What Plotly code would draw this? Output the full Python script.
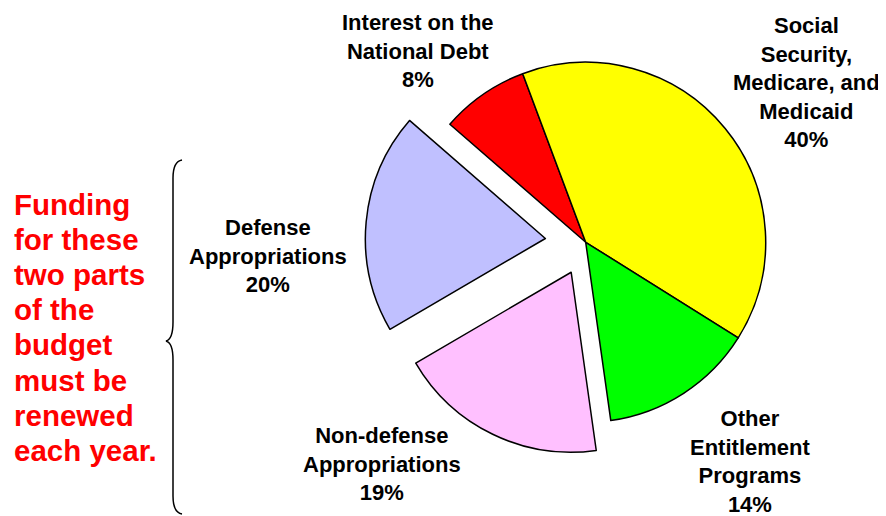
import plotly.graph_objects as go

# page has an 8px body margin; figure is sized to fit the window
OFF = 8
W, H = 886 - OFF, 516 - OFF

labels = ["Interest on the National Debt", "Social Security, Medicare, and Medicaid",
          "Other Entitlement Programs", "Non-defense Appropriations", "Defense Appropriations"]
values = [8, 40, 14, 19, 20]
colors = ["#FF0000", "#FFFF00", "#00FF00", "#FFC0FF", "#C0C0FF"]
pulls = [0, 0, 0, 0.185, 0.225]

label_texts = ["Interest on the<br>National Debt<br>8%",
               "Social<br>Security,<br>Medicare, and<br>Medicaid<br>40%",
               "Other<br>Entitlement<br>Programs<br>14%",
               "Non-defense<br>Appropriations<br>19%",
               "Defense<br>Appropriations<br>20%"]
label_pos = [(417.5, 51.5), (806, 83), (749.5, 461), (382, 464), (267.5, 256)]

note_lines = ["Funding", "for these", "two parts", "of the", "budget",
              "must be", "renewed", "each year."]

FONT = "Liberation Sans, Arial, sans-serif"

def px(x):
    return (x - OFF) / W

def py(y):
    return 1 - (y - OFF) / H

# pie placement (page pixels)
CX, CY, R = 585.7, 242.3, 180.0
half = R * (1 + max(pulls))
dom_x = [px(CX - half), px(CX + half)]
dom_y = [py(CY + half), py(CY - half)]

fig = go.Figure()
fig.add_trace(go.Pie(
    labels=labels, values=values, sort=False, direction="clockwise",
    rotation=-49, pull=pulls, textinfo="none", hoverinfo="label+value",
    marker=dict(colors=colors, line=dict(color="black", width=1.5)),
    domain=dict(x=dom_x, y=dom_y),
    showlegend=False,
))

annotations = []
for t, (x, y) in zip(label_texts, label_pos):
    annotations.append(dict(
        text="<b>" + t + "</b>", x=px(x), y=py(y), xref="paper", yref="paper",
        xanchor="center", yanchor="middle", showarrow=False, align="center",
        font=dict(family=FONT, size=22, color="black")))

for i, line in enumerate(note_lines):
    annotations.append(dict(
        text="<b>" + line + "</b>", x=px(12), y=py(204 + i * 35.2),
        xref="paper", yref="paper", xanchor="left", yanchor="middle",
        showarrow=False, align="left",
        font=dict(family=FONT, size=29.5, color="#FF0000")))

# curly brace
pts = [("M", [(182, 160)]),
       ("C", [(176, 161), (173, 167), (173, 178)]),
       ("L", [(173, 322)]),
       ("C", [(173, 334), (170, 340), (166, 341)]),
       ("C", [(170, 342), (173, 348), (173, 360)]),
       ("L", [(173, 496)]),
       ("C", [(173, 507), (176, 513), (182, 514)])]
path = " ".join(cmd + " " + " ".join(f"{px(x):.5f},{py(y):.5f}" for x, y in p) for cmd, p in pts)

fig.update_layout(
    width=W, height=H,
    margin=dict(l=0, r=0, t=0, b=0),
    paper_bgcolor="white", plot_bgcolor="white",
    annotations=annotations,
    shapes=[dict(type="path", path=path, xref="paper", yref="paper",
                 line=dict(color="black", width=1.5))],
)

fig.write_html("out.html")
